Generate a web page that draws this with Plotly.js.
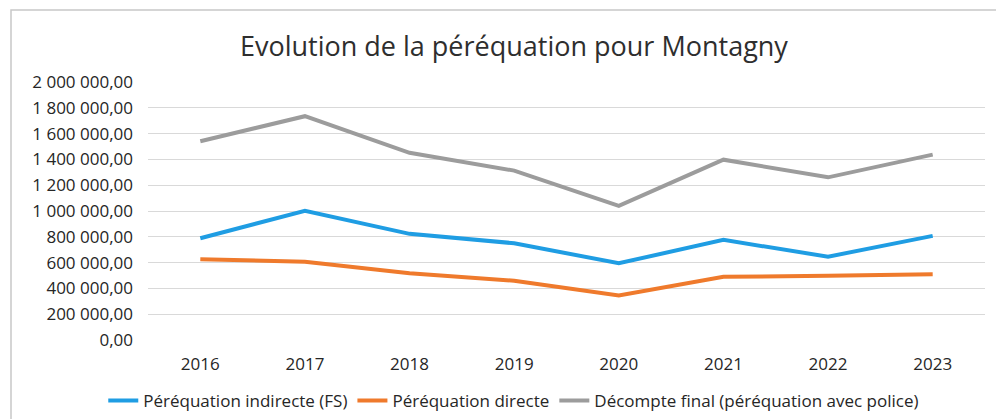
<!DOCTYPE html>
<html>
<head>
<meta charset="utf-8">
<script src="https://cdn.plot.ly/plotly-3.0.1.min.js"></script>
<style>html,body{margin:0;padding:0;background:#fff;}#chart{width:996px;height:419px;}</style>
</head>
<body>
<div id="chart"></div>
<script>
const years = ["2016", "2017", "2018", "2019", "2020", "2021", "2022", "2023"];
const indirecte = [789000, 1002000, 823000, 750000, 595000, 776000, 646000, 807000];
const directe = [626000, 607000, 517000, 459000, 346000, 490000, 498000, 509000];
const decompte = [1541000, 1735000, 1451000, 1313000, 1040000, 1398000, 1261000, 1437000];
const seriesNames = ["Péréquation indirecte (FS)", "Péréquation directe", "Décompte final (péréquation avec police)"];
const chartTitle = "Evolution de la péréquation pour Montagny";
const yTicks = [0, 200000, 400000, 600000, 800000, 1000000, 1200000, 1400000, 1600000, 1800000, 2000000];

const colors = ["#1f9de3", "#ef7a2c", "#9c9c9c"];
const traces = [indirecte, directe, decompte].map((vals, i) => ({
  type: "scatter", mode: "lines", x: years, y: vals, name: seriesNames[i],
  line: {color: colors[i], width: 4}
}));

const font = "'Open Sans', 'Noto Sans', sans-serif";
const layout = {
  width: 996, height: 419,
  margin: {l: 148, r: 11, t: 82, b: 79, autoexpand: false},
  paper_bgcolor: "#ffffff", plot_bgcolor: "#ffffff",
  separators: ", ",
  font: {family: font, size: 17, color: "#262626"},
  title: {text: chartTitle, x: 0.516, xref: "container", xanchor: "center",
          y: 0.888, yref: "container", yanchor: "middle",
          font: {family: font, size: 27, color: "#2e2e2e"}},
  xaxis: {type: "category", range: [-0.5, 7.5], showgrid: false, zeroline: false,
          showline: false, ticks: "", ticklabelstandoff: 12,
          tickfont: {size: 17, color: "#262626"}},
  yaxis: {range: [0, 2000000], tickvals: yTicks, tickformat: ",.2f",
          showgrid: true, gridcolor: "#d9d9d9", gridwidth: 1, zeroline: false,
          showline: false, ticks: "", ticklabelstandoff: 14,
          tickfont: {size: 17, color: "#262626"}},
  showlegend: true,
  legend: {orientation: "h", x: 0.437, xanchor: "center", y: -0.236, yanchor: "middle",
           font: {size: 17, color: "#262626"}, itemwidth: 30, traceorder: "normal"},
  shapes: [{type: "rect", xref: "paper", yref: "paper",
            x0: (11 - 148) / 837, x1: 1.2, y0: -0.5, y1: (340 - 10) / 258,
            line: {color: "#c8c8c8", width: 1.5}, fillcolor: "rgba(0,0,0,0)", layer: "below"}]
};

Plotly.newPlot("chart", traces, layout, {displayModeBar: false, staticPlot: true});
</script>
</body>
</html>
